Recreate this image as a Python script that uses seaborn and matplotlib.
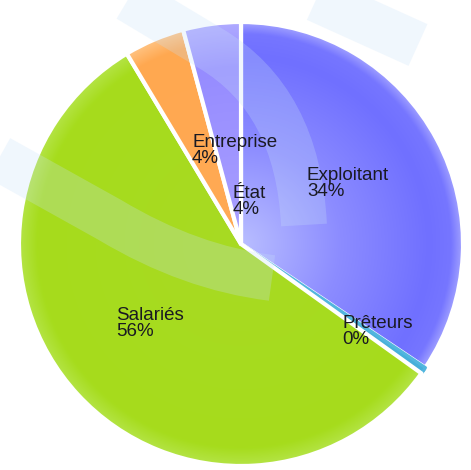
import numpy as np
import matplotlib
matplotlib.use("Agg")
import matplotlib.pyplot as plt
from matplotlib.patches import PathPatch
from matplotlib.path import Path
import seaborn as sns

# data
labels = ["Exploitant", "Prêteurs", "Salariés", "Entreprise", "État"]
values = [34.4, 0.5, 56.5, 4.4, 4.2]
pct_labels = ["34%", "0%", "56%", "4%", "4%"]
base_colors = ["#7878ff", "#48b2dc", "#a7dc1d", "#ffab55", "#9c90ff"]

sns.set_theme(style="white")
plt.rcParams["font.family"] = ["Liberation Sans", "DejaVu Sans"]

W, H = 471, 470
fig = plt.figure(figsize=(W / 100, H / 100), dpi=100)
ax = fig.add_axes([0, 0, 1, 1])

radius = 222
center = (241, H - 244)
explode = [0.03, 0.065, 0.022, 0.03, 0.025]
edge_w = [3, 2.2, 3, 3, 3]
edge_c = ["white", "#52b6de", "white", "white", "white"]

wedges, _ = ax.pie(values, colors=base_colors, startangle=90, counterclock=False,
                   radius=radius, center=center, explode=explode,
                   wedgeprops=dict(edgecolor="white", linewidth=3),
                   frame=True)
ax.set_xlim(0, W)
ax.set_ylim(0, H)
ax.set_aspect("auto")
ax.axis("off")

# radial shading stops per slice: (fraction of radius, rgb)
stops = {
    "Exploitant": [(0.0, (185, 190, 255)), (0.45, (140, 140, 255)), (0.85, (112, 112, 255)),
                   (0.95, (118, 118, 255)), (1.0, (160, 160, 255))],
    "Prêteurs": [(0.0, (85, 185, 222)), (1.0, (70, 175, 218))],
    "Salariés": [(0.0, (168, 218, 35)), (0.92, (166, 220, 28)), (1.0, (180, 228, 70))],
    "Entreprise": [(0.0, (255, 170, 85)), (0.92, (255, 168, 80)), (1.0, (255, 195, 130))],
    "État": [(0.0, (170, 160, 255)), (0.8, (150, 140, 255)), (1.0, (175, 170, 255))],
}

for i, (w, name) in enumerate(zip(wedges, labels)):
    w.set_linewidth(edge_w[i])
    w.set_edgecolor(edge_c[i])
    cx, cy = w.center
    r = w.r
    x0, x1 = cx - r, cx + r
    y0, y1 = cy - r, cy + r
    n = 300
    X, Y = np.meshgrid(np.linspace(x0, x1, n), np.linspace(y0, y1, n))
    t = np.clip(np.hypot(X - cx, Y - cy) / r, 0, 1)
    pts = stops[name]
    tp = [p[0] for p in pts]
    img = np.zeros((n, n, 3))
    for c in range(3):
        img[..., c] = np.interp(t, tp, [p[1][c] / 255 for p in pts])
    z = w.get_zorder() + 0.1 * i
    im = ax.imshow(img, extent=[x0, x1, y0, y1], origin="lower", aspect="auto",
                   interpolation="bilinear", zorder=z + 0.01)
    im.set_clip_path(w)
    # edge back on top of the shading
    ax.add_patch(PathPatch(w.get_path(), transform=w.get_transform(), fill=False,
                           edgecolor=edge_c[i], linewidth=edge_w[i],
                           joinstyle="round", zorder=z + 0.02))


# faint watermark swooshes (image coordinates, flipped)
def band(points, codes):
    verts = [(x, H - y) for x, y in points]
    ax.add_patch(PathPatch(Path(verts, codes), fill=False, edgecolor="#c8e1fa",
                           alpha=0.26, linewidth=33, capstyle="butt", zorder=5))


M, L, C = Path.MOVETO, Path.LINETO, Path.CURVE3
band([(110, -12), (210, 48), (298, 100), (304, 225)], [M, L, C, C])
band([(292, -12), (418, 45)], [M, L])
band([(-12, 152), (110, 220), (190, 268), (272, 278)], [M, L, C, C])

# labels (image coordinates, top-left anchor)
label_pos = {
    "Exploitant": (307, 167),
    "Prêteurs": (342, 315),
    "Salariés": (116, 307),
    "Entreprise": (192, 134),
    "État": (233, 185),
}
for name, pct in zip(labels, pct_labels):
    x, y = label_pos[name]
    ax.text(x, H - y, f"{name}\n{pct}", ha="left", va="top", fontsize=13.5,
            color="#1a1a22", linespacing=0.95, zorder=10)

fig.savefig("out.png", dpi=100)
